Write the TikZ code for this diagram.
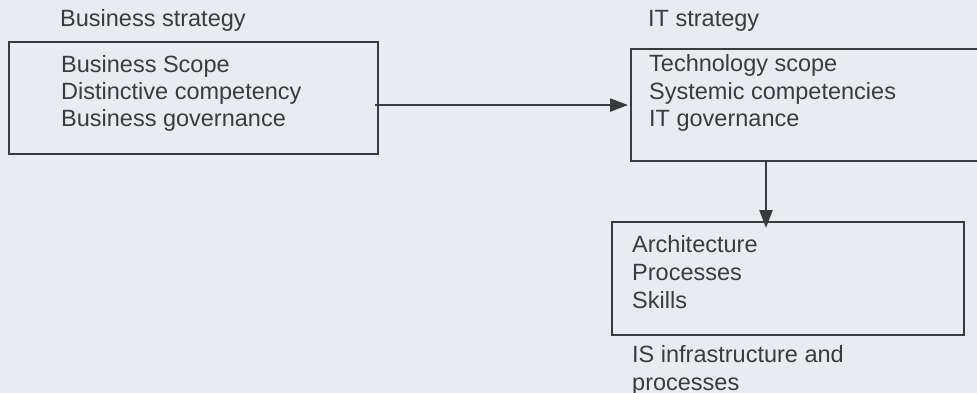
\documentclass[tikz,border=0pt]{standalone}
\usepackage{fontspec}
\setmainfont{Liberation Sans}
\usetikzlibrary{arrows.meta}
\definecolor{paper}{HTML}{E8EBEF}
\definecolor{ink}{HTML}{3A3A3C}
\definecolor{txt}{HTML}{3C3C3E}
\tikzset{
  box/.style={draw=ink, line width=2.1pt, inner sep=0pt, anchor=north west},
  lbl/.style={inner sep=0pt, anchor=base west, text=txt,
    font=\fontsize{23.5pt}{28pt}\selectfont},
  arr/.style={draw=ink, line width=2.3pt, -{Triangle[length=18pt,width=13pt]}}
}
\begin{document}
\begin{tikzpicture}[x=1pt,y=-1pt]
  \fill[paper] (0,0) rectangle (977,393);
  \useasboundingbox (0,0) rectangle (977,393);
  \begin{scope}
  \clip (0,0) rectangle (977,393);

  % business strategy
  \node[lbl] (t1) at (60,27) {Business strategy};
  \node[box, minimum width=369pt, minimum height=112pt] (b1) at (8,41) {};
  \node[lbl] (l11) at (61,73) {Business Scope};
  \node[lbl] (l12) at (61,100) {Distinctive competency};
  \node[lbl] (l13) at (61,127) {Business governance};

  % IT strategy (box runs past the right edge)
  \node[lbl] (t2) at (648,27) {IT strategy};
  \node[box, minimum width=360pt, minimum height=112pt] (b2) at (630,48) {};
  \node[lbl] (l21) at (649,72) {Technology scope};
  \node[lbl] (l22) at (649,100) {Systemic competencies};
  \node[lbl] (l23) at (649,127) {IT governance};

  % IS infrastructure and processes
  \node[box, minimum width=352pt, minimum height=113pt] (b3) at (611,221) {};
  \node[lbl] (l31) at (632,252) {Architecture};
  \node[lbl] (l32) at (632,280) {Processes};
  \node[lbl] (l33) at (632,308) {Skills};
  \node[lbl] (t3) at (632,362) {IS infrastructure and};
  \node[lbl] (t3b) at (632,390) {processes};

  % connectors
  \coordinate (drop) at ([xshift=155pt]b3.north west);
  \draw[arr, shorten >=2pt] ([xshift=-4pt]b1.east |- b2.west) -- (b2.west);
  \draw[arr] ([yshift=2pt]b2.south -| drop) -- ([yshift=-7pt]drop);
  \end{scope}
\end{tikzpicture}
\end{document}
